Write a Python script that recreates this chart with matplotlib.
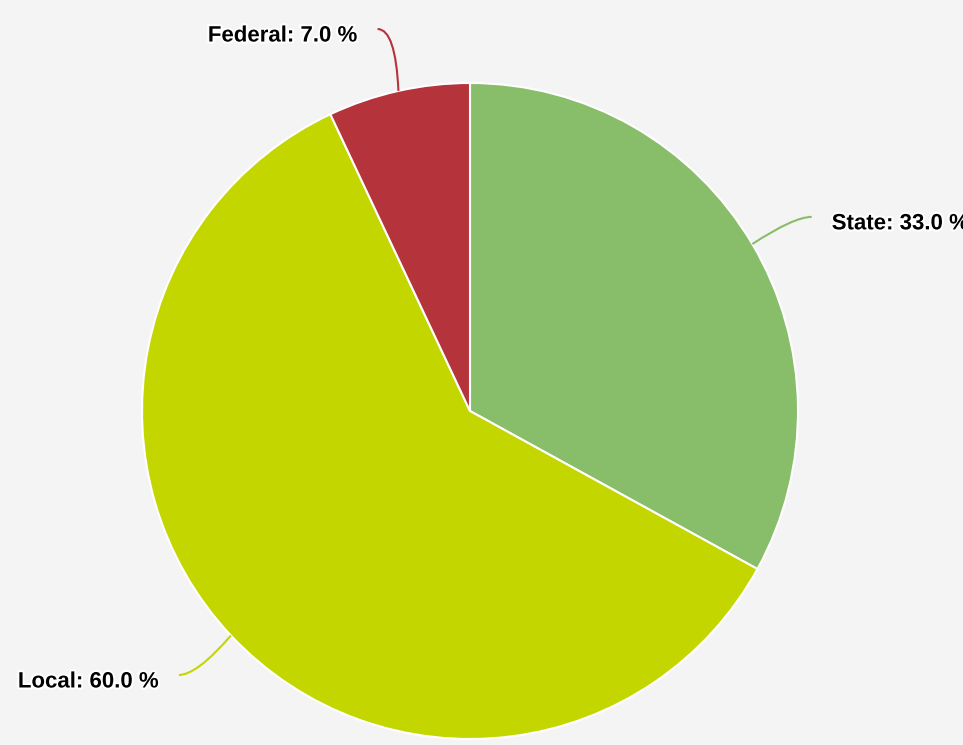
import numpy as np
import matplotlib.pyplot as plt
import matplotlib.patheffects as pe
from matplotlib.path import Path
from matplotlib.patches import PathPatch

# data
labels = ['State', 'Local', 'Federal']
shares = [33.0, 60.0, 7.0]
colors = ['#88BD6A', '#C4D600', '#B5333A']

W, H = 963, 745
cx, cy, radius = 470, H - 411, 328

fig = plt.figure(figsize=(W / 100, H / 100), dpi=100)
fig.patch.set_facecolor('#F4F4F4')
ax = fig.add_axes([0, 0, 1, 1])
ax.set_facecolor('#F4F4F4')

wedges, _ = ax.pie(shares, colors=colors, startangle=90, counterclock=False,
                   center=(cx, cy), radius=radius,
                   wedgeprops=dict(edgecolor='white', linewidth=1.5))
ax.set_xlim(0, W)
ax.set_ylim(0, H)
ax.set_aspect('equal')
ax.axis('off')

# connectors + labels
outline = [pe.withStroke(linewidth=3, foreground='white')]
for w, lab, val, col in zip(wedges, labels, shares, colors):
    mid = (w.theta1 + w.theta2) / 2
    c, s = np.cos(np.deg2rad(mid)), np.sin(np.deg2rad(mid))
    p0 = (cx + radius * c, cy + radius * s)
    # label anchor sits a bit further out, nudged toward horizontal
    tilt = np.deg2rad(mid - 1.0 * np.sign(c * s))
    p2 = (cx + (radius + 65) * np.cos(tilt), cy + (radius + 65) * np.sin(tilt))
    sgn = 1 if c >= 0 else -1
    p1 = (p2[0] - sgn * 18, p2[1])
    path = Path([p0, p1, p2], [Path.MOVETO, Path.CURVE3, Path.CURVE3])
    ax.add_patch(PathPatch(path, fill=False, edgecolor=col, linewidth=1.5))
    ax.text(p2[0] + sgn * 20, p2[1] - 7, f'{lab}: {val:.1f} %',
            ha='left' if sgn > 0 else 'right', va='center',
            fontsize=16, fontweight='bold', family='Liberation Sans',
            color='black', path_effects=outline)

plt.savefig('out.png', dpi=100, facecolor=fig.get_facecolor())
